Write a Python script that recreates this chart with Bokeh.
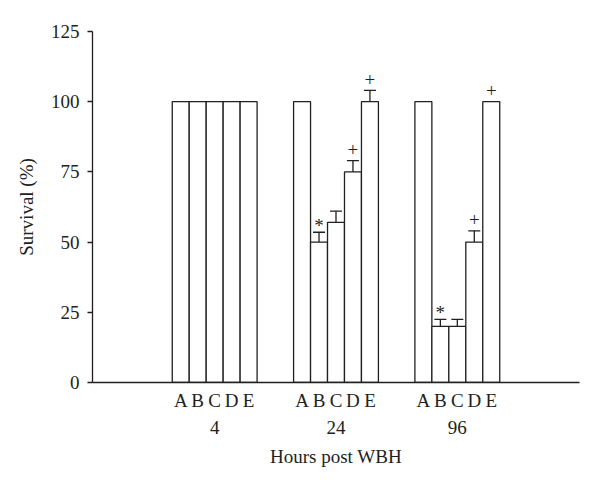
from bokeh.plotting import figure
from bokeh.models import (Range1d, LinearAxis, FixedTicker, ColumnDataSource,
                          Whisker, TeeHead)
from bokeh.core.properties import value
from bokeh.embed import file_html
from bokeh.resources import INLINE

# ---- data ----
groups = ["4", "24", "96"]
letters = ["A", "B", "C", "D", "E"]
survival_4 = [100, 100, 100, 100, 100]
survival_24 = [100, 50, 57, 75, 100]
survival_96 = [100, 20, 20, 50, 100]
err_4 = [0, 0, 0, 0, 0]
err_24 = [0, 3.5, 4, 4, 4]
err_96 = [0, 2.5, 2.5, 4, 0]
marks_4 = ["", "", "", "", ""]
marks_24 = ["", "*", "", "+", "+"]
marks_96 = ["", "*", "", "+", "+"]
y_ticks = [0, 25, 50, 75, 100, 125]

FONT = "Liberation Serif"
FS = "19px"
INK = "#231f20"

# layout units along x (integer units; one bar = BW units)
BW = 20
GAP = 43
PAD = 94
GSTEP = len(letters) * BW + GAP

series = [survival_4, survival_24, survival_96]
errs = [err_4, err_24, err_96]
marks = [marks_4, marks_24, marks_96]

xs, tops, es, ms, labs = [], [], [], [], []
for g, _ in enumerate(groups):
    for j, l in enumerate(letters):
        xs.append(g * GSTEP + j * BW)
        tops.append(series[g][j])
        es.append(errs[g][j])
        ms.append(marks[g][j])
        labs.append(l)

src = ColumnDataSource(dict(x=xs, top=tops))
wsrc = ColumnDataSource(dict(
    x=[x for x, e in zip(xs, es) if e > 0],
    top=[t for t, e in zip(tops, es) if e > 0],
    upper=[t + e for t, e in zip(tops, es) if e > 0]))
plus_src = ColumnDataSource(dict(
    x=[x for x, m in zip(xs, ms) if m == "+"],
    y=[t + e for t, e, m in zip(tops, es, ms) if m == "+"],
    mark=[m for m in ms if m == "+"]))
star_src = ColumnDataSource(dict(
    x=[x for x, m in zip(xs, ms) if m == "*"],
    y=[t + e for t, e, m in zip(tops, es, ms) if m == "*"],
    mark=[m for m in ms if m == "*"]))

x_start = -BW / 2 - PAD
x_end = (len(groups) - 1) * GSTEP + (len(letters) - 1) * BW + BW / 2 + PAD

p = figure(width=592, height=484, output_backend="svg", toolbar_location=None,
           x_range=Range1d(x_start, x_end), y_range=Range1d(0, 125),
           x_axis_type=None, min_border_left=92, min_border_right=13,
           min_border_top=31, min_border_bottom=102)
p.outline_line_color = None
p.grid.visible = False
p.background_fill_color = "white"

p.vbar(x="x", top="top", bottom=0, width=BW, source=src,
       fill_color="white", line_color=INK, line_width=1.3)

wh = Whisker(base="x", lower="top", upper="upper", source=wsrc,
             dimension="height", line_color=INK, line_width=1.3,
             upper_head=TeeHead(size=12, line_color=INK, line_width=1.3),
             lower_head=None)
p.add_layout(wh)

p.text(x="x", y="y", text="mark", source=plus_src, text_align="center",
       text_baseline="middle", y_offset=-11, text_color=INK,
       text_font=value(FONT), text_font_size=FS)
p.text(x="x", y="y", text="mark", source=star_src, text_align="center",
       text_baseline="middle", y_offset=-7, text_color=INK,
       text_font=value(FONT), text_font_size=FS)

# y axis
ya = p.yaxis[0]
ya.ticker = FixedTicker(ticks=y_ticks)
ya.minor_tick_line_color = None
ya.major_tick_in = 0
ya.major_tick_out = 5
ya.major_label_standoff = 8
ya.axis_label = "Survival (%)"
ya.axis_label_standoff = 11
ya.axis_line_color = INK
ya.axis_line_width = 1.3
ya.major_tick_line_color = INK
ya.major_tick_line_width = 1.3
ya.major_label_text_font = FONT
ya.major_label_text_font_size = FS
ya.major_label_text_color = INK
ya.axis_label_text_font = FONT
ya.axis_label_text_font_size = FS
ya.axis_label_text_font_style = "normal"
ya.axis_label_text_color = INK

# x axis: bar letters
xa1 = LinearAxis(ticker=FixedTicker(ticks=xs),
                 major_label_overrides={x: l for x, l in zip(xs, labs)})
# x axis: group labels + title
gcent = [g * GSTEP + (len(letters) - 1) * BW // 2 for g in range(len(groups))]
xa2 = LinearAxis(ticker=FixedTicker(ticks=gcent),
                 major_label_overrides={x: l for x, l in zip(gcent, groups)},
                 axis_label="Hours post WBH")
for a in [xa1, xa2]:
    a.minor_tick_line_color = None
    a.major_tick_line_color = None
    a.major_tick_in = 0
    a.major_tick_out = 0
    a.major_label_text_font = FONT
    a.major_label_text_font_size = FS
    a.major_label_text_color = INK
    a.axis_label_text_font = FONT
    a.axis_label_text_font_size = FS
    a.axis_label_text_font_style = "normal"
    a.axis_label_text_color = INK
xa1.axis_line_color = INK
xa1.axis_line_width = 1.3
xa1.major_label_standoff = 7
xa2.axis_line_color = None
xa2.major_label_standoff = 7
xa2.axis_label_standoff = 9
p.add_layout(xa1, "below")
p.add_layout(xa2, "below")

open("out.html", "w").write(file_html(p, INLINE))
